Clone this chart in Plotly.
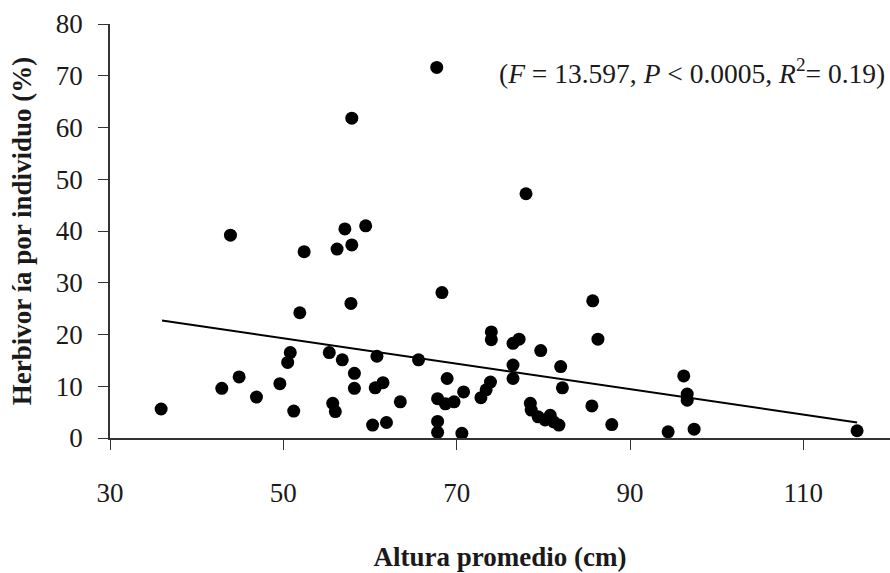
import plotly.graph_objects as go

# Data
altura = [35.9, 42.9, 43.9, 44.9, 46.9, 49.6, 50.5, 50.8, 51.2, 51.9,
          52.4, 55.3, 55.7, 56.0, 56.2, 56.8, 57.1, 57.8, 57.9, 57.9,
          58.2, 58.2, 59.5, 60.3, 60.6, 60.8, 61.5, 61.9, 63.5, 65.6,
          67.7, 67.8, 67.8, 67.8, 68.3, 68.7, 68.9, 69.7, 70.6, 70.8,
          72.8, 73.4, 73.9, 74.0, 74.0, 76.5, 77.2, 76.5, 76.5, 78.0,
          78.5, 78.6, 79.4, 79.7, 80.2, 80.8, 81.2, 81.8, 82.0, 82.2,
          85.6, 85.7, 86.3, 87.9, 94.4, 96.2, 96.6, 96.6, 97.4, 116.2]
herbivoria = [5.6, 9.6, 39.2, 11.8, 7.9, 10.5, 14.6, 16.5, 5.2, 24.2,
              36.0, 16.5, 6.7, 5.1, 36.5, 15.1, 40.4, 26.0, 37.3, 61.8,
              12.5, 9.6, 41.0, 2.5, 9.7, 15.8, 10.7, 3.0, 7.0, 15.1,
              71.6, 7.6, 3.2, 1.1, 28.1, 6.6, 11.5, 7.0, 0.9, 8.9,
              7.8, 9.3, 10.8, 20.5, 19.0, 18.3, 19.1, 14.1, 11.5, 47.2,
              6.7, 5.4, 4.1, 16.9, 3.5, 4.4, 3.1, 2.5, 13.8, 9.7,
              6.2, 26.5, 19.1, 2.6, 1.2, 12.0, 8.5, 7.3, 1.7, 1.4]

# Regression line endpoints
reg_x = [36.0, 116.2]
reg_y = [22.7, 3.0]

x_ticks = [30, 50, 70, 90, 110]
y_ticks = [0, 10, 20, 30, 40, 50, 60, 70, 80]

serif = "Liberation Serif, Times New Roman, serif"

fig = go.Figure()
fig.add_trace(go.Scatter(x=reg_x, y=reg_y, mode="lines",
                         line=dict(color="black", width=2), showlegend=False,
                         hoverinfo="skip"))
fig.add_trace(go.Scatter(x=altura, y=herbivoria, mode="markers",
                         marker=dict(color="black", size=13), showlegend=False))

fig.update_layout(
    width=890, height=573,
    margin=dict(l=110, r=0, t=24, b=135),
    paper_bgcolor="white", plot_bgcolor="white",
    font=dict(family=serif, color="#1a1a1a", size=27),
    xaxis=dict(range=[30, 120], tickvals=x_ticks, ticks="outside", ticklen=10,
               tickcolor="#333", showline=True, linecolor="#333", linewidth=1.5,
               showgrid=False, zeroline=False, ticklabelstandoff=20,
               tickfont=dict(family=serif, size=27, color="#1a1a1a"),
               title=dict(text="<b>Altura promedio (cm)</b>", standoff=40,
                          font=dict(family=serif, size=27, color="#1a1a1a"))),
    yaxis=dict(range=[0, 80], tickvals=y_ticks, ticks="outside", ticklen=10,
               tickcolor="#333", showline=True, linecolor="#333", linewidth=1.5,
               showgrid=False, zeroline=False, ticklabelstandoff=10,
               tickfont=dict(family=serif, size=27, color="#1a1a1a"),
               title=dict(text="<b>Herbivor ía por individuo (%)</b>", standoff=16,
                          font=dict(family=serif, size=27, color="#1a1a1a"))),
)

fig.add_annotation(x=74.7, y=70.8, xref="x", yref="y", xanchor="left", yanchor="middle",
                   text="(<i>F</i> = 13.597, <i>P</i> < 0.0005, <i>R</i><sup>2</sup>= 0.19)",
                   showarrow=False, font=dict(family=serif, size=27.5, color="#1a1a1a"))

fig.write_html("out.html")
